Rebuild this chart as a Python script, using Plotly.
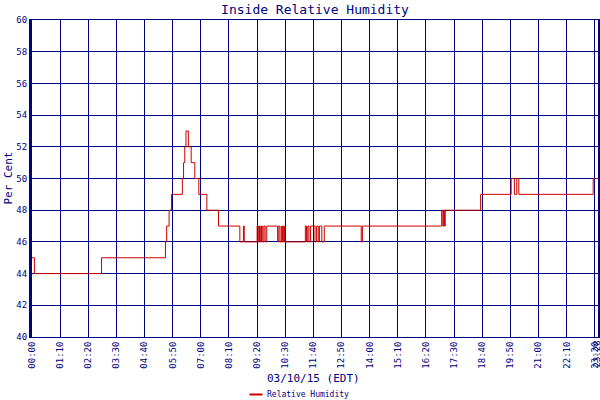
import plotly.graph_objects as go

# ---- data ----
change_times = ["00:00", "00:06", "02:53", "05:32", "05:35", "05:41", "05:47", "06:14", "06:17", "06:20",
                "06:23", "06:29", "06:36", "06:45", "06:55", "07:15", "07:44", "08:37", "08:46", "08:48",
                "09:20", "09:23", "09:26", "09:28", "09:31", "09:34", "09:37", "09:40", "09:44", "10:11",
                "10:14", "10:17", "10:21", "10:23", "10:26", "10:28", "11:20", "11:23", "11:26", "11:29",
                "11:33", "11:44", "11:48", "11:52", "11:55", "12:01", "12:07", "13:39", "13:42", "16:59",
                "17:02", "17:04", "17:06", "17:08", "18:36", "19:52", "20:00", "20:06", "20:11", "23:16",
                "23:25"]
humidity = [45, 44, 45, 46, 47, 48, 49, 50, 51, 52,
            53, 52, 51, 50, 49, 48, 47, 46, 47, 46,
            47, 46, 47, 46, 47, 46, 47, 46, 47, 46,
            47, 46, 47, 46, 47, 46, 47, 46, 47, 46,
            47, 46, 47, 46, 47, 46, 47, 46, 47, 48,
            47, 48, 47, 48, 49, 50, 49, 50, 49, 50,
            50]
tick_labels = ["00:00", "01:10", "02:20", "03:30", "04:40", "05:50", "07:00", "08:10", "09:20", "10:30",
               "11:40", "12:50", "14:00", "15:10", "16:20", "17:30", "18:40", "19:50", "21:00", "22:10",
               "23:20"]
end_label = "23:28"
y_range = [40, 60]


def to_min(s):
    h, m = s.split(":")
    return int(h) * 60 + int(m)


x_minutes = [to_min(s) for s in change_times]
tick_vals = [to_min(s) for s in tick_labels]
x_end = to_min(end_label)

NAVY = "#000080"
MONO = "DejaVu Sans Mono, Liberation Mono, monospace"

fig = go.Figure()
fig.add_trace(go.Scatter(
    x=x_minutes, y=humidity, mode="lines", line_shape="hv",
    line=dict(color="#cc0000", width=1), name="Relative Humidity",
    showlegend=False,
))

L, R, T, B = 32, 2, 20, 63
PW, PH = 600 - L - R, 400 - T - B

fig.update_layout(
    width=600, height=400,
    margin=dict(l=L, r=R, t=T, b=B, pad=0, autoexpand=False),
    paper_bgcolor="white", plot_bgcolor="white",
    title=dict(text="Inside Relative Humidity", x=0.5, xref="paper",
               y=1 - 9 / 400, yref="container", yanchor="middle", xanchor="center",
               automargin=False,
               font=dict(family=MONO, size=13, color=NAVY)),
    xaxis=dict(range=[0, x_end], tickmode="array", tickvals=tick_vals, ticktext=tick_labels,
               tickangle=-90, showgrid=True, gridcolor=NAVY, gridwidth=1, automargin=False,
               showline=True, linecolor=NAVY, linewidth=1, mirror=True,
               zeroline=False, ticks="", tickfont=dict(family=MONO, size=9, color=NAVY)),
    yaxis=dict(range=y_range, tick0=40, dtick=2, showgrid=True, gridcolor=NAVY, gridwidth=1,
               showline=True, linecolor=NAVY, linewidth=3, mirror=True, automargin=False,
               zeroline=False, ticks="", tickfont=dict(family=MONO, size=9, color=NAVY)),
    annotations=[
        dict(text=end_label, xref="x", yref="paper", x=x_end, y=(337 - 339) / PH, textangle=-90,
             xanchor="center", yanchor="top", showarrow=False, xshift=-2,
             font=dict(family=MONO, size=9, color=NAVY)),
        dict(text="03/10/15 (EDT)", xref="paper", yref="paper", x=(313 - L) / PW, y=(337 - 378) / PH,
             xanchor="center", yanchor="middle", showarrow=False,
             font=dict(family=MONO, size=11, color=NAVY)),
        dict(text="Per Cent", xref="paper", yref="paper", x=(8 - L) / PW, y=0.5, textangle=-90,
             xanchor="center", yanchor="middle", showarrow=False,
             font=dict(family=MONO, size=11, color=NAVY)),
        dict(text="Relative Humidity", xref="paper", yref="paper", x=(265 - L) / PW, y=(337 - 394.5) / PH,
             xanchor="left", yanchor="middle", showarrow=False,
             font=dict(family=MONO, size=8, color=NAVY)),
    ],
    shapes=[
        dict(type="line", xref="paper", yref="paper", x0=(249.5 - L) / PW, x1=(262.5 - L) / PW,
             y0=(337 - 394.5) / PH, y1=(337 - 394.5) / PH, line=dict(color="#cc0000", width=2)),
    ],
)

fig.write_html("out.html", config={"displayModeBar": False},
               post_script="document.body.style.margin='0';document.body.style.overflow='hidden';")
